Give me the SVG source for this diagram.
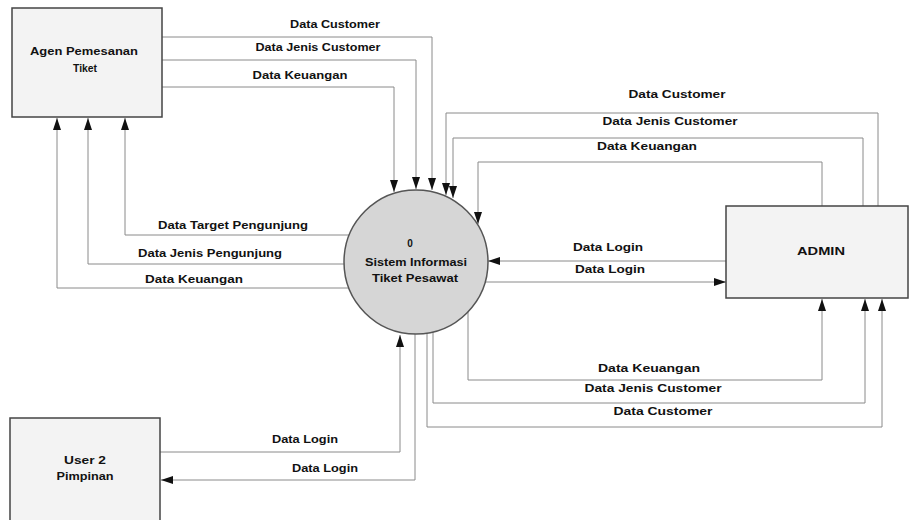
<svg xmlns="http://www.w3.org/2000/svg" width="910" height="520" viewBox="0 0 910 520">
<style>
.bg{fill:#ffffff}
.box{fill:#f3f3f3;stroke:#444;stroke-width:1.5}
.proc{fill:#d6d6d6;stroke:#555;stroke-width:1.5}
.flow{fill:none;stroke:#8a8a8a;stroke-width:1;marker-end:url(#arr)}
text{font-family:"Liberation Sans",Arial,sans-serif;font-weight:bold;font-size:10px;fill:#111;text-anchor:middle}
</style>
<defs>
<marker id="arr" markerUnits="userSpaceOnUse" markerWidth="12" markerHeight="8" refX="12" refY="4" orient="auto">
<path d="M0,0 L12,4 L0,8 z" fill="#111"/>
</marker>
</defs>
<rect class="bg" x="0" y="0" width="910" height="520"/>

<g id="connectors">
<path class="flow" d="M162,37 H432 V190"/>
<path class="flow" d="M162,60 H416 V189"/>
<path class="flow" d="M162,87 H394 V192"/>
<path class="flow" d="M349,235 H125 V118"/>
<path class="flow" d="M344,264 H88 V118"/>
<path class="flow" d="M349,288 H57 V118"/>
<path class="flow" d="M878,206 V113 H446 V195"/>
<path class="flow" d="M863,206 V138 H453 V198"/>
<path class="flow" d="M822,206 V162 H478 V224"/>
<path class="flow" d="M726,261 H488"/>
<path class="flow" d="M485,282 H726"/>
<path class="flow" d="M468,312 V380 H822 V299"/>
<path class="flow" d="M433,332 V403 H865 V299"/>
<path class="flow" d="M427,333 V427 H882 V299"/>
<path class="flow" d="M160,452 H400 V335"/>
<path class="flow" d="M415,334 V480 H161"/>

<text x="335" y="28" textLength="90" lengthAdjust="spacingAndGlyphs">Data Customer</text>
<text x="318" y="51" textLength="125" lengthAdjust="spacingAndGlyphs">Data Jenis Customer</text>
<text x="300" y="79" textLength="95" lengthAdjust="spacingAndGlyphs">Data Keuangan</text>
<text x="233" y="229" textLength="150" lengthAdjust="spacingAndGlyphs">Data Target Pengunjung</text>
<text x="210" y="257" textLength="144" lengthAdjust="spacingAndGlyphs">Data Jenis Pengunjung</text>
<text x="194" y="283" textLength="98" lengthAdjust="spacingAndGlyphs">Data Keuangan</text>
<text x="677" y="98" textLength="97" lengthAdjust="spacingAndGlyphs">Data Customer</text>
<text x="670" y="125" textLength="135" lengthAdjust="spacingAndGlyphs">Data Jenis Customer</text>
<text x="647" y="150" textLength="100" lengthAdjust="spacingAndGlyphs">Data Keuangan</text>
<text x="608" y="251" textLength="70" lengthAdjust="spacingAndGlyphs">Data Login</text>
<text x="610" y="273" textLength="70" lengthAdjust="spacingAndGlyphs">Data Login</text>
<text x="649" y="372" textLength="102" lengthAdjust="spacingAndGlyphs">Data Keuangan</text>
<text x="653" y="392" textLength="137" lengthAdjust="spacingAndGlyphs">Data Jenis Customer</text>
<text x="663" y="415" textLength="99" lengthAdjust="spacingAndGlyphs">Data Customer</text>
<text x="305" y="443" textLength="66" lengthAdjust="spacingAndGlyphs">Data Login</text>
<text x="325" y="472" textLength="66" lengthAdjust="spacingAndGlyphs">Data Login</text>
</g>

<g id="agen">
<rect class="box" x="12" y="8" width="150" height="109"/>
<text x="84" y="55" textLength="108" lengthAdjust="spacingAndGlyphs">Agen Pemesanan</text>
<text x="85" y="72" textLength="24" lengthAdjust="spacingAndGlyphs">Tiket</text>
</g>

<g id="sistem">
<circle class="proc" cx="416" cy="262" r="72"/>
<text x="410" y="247">0</text>
<text x="416" y="266" textLength="102" lengthAdjust="spacingAndGlyphs">Sistem Informasi</text>
<text x="415" y="282" textLength="86" lengthAdjust="spacingAndGlyphs">Tiket Pesawat</text>
</g>

<g id="admin">
<rect class="box" x="726" y="206" width="182" height="92"/>
<text x="821" y="255" textLength="48" lengthAdjust="spacingAndGlyphs">ADMIN</text>
</g>

<g id="user2">
<rect class="box" x="10" y="418" width="150" height="110"/>
<text x="85" y="464" textLength="42" lengthAdjust="spacingAndGlyphs">User 2</text>
<text x="85" y="480" textLength="57" lengthAdjust="spacingAndGlyphs">Pimpinan</text>
</g>
</svg>
